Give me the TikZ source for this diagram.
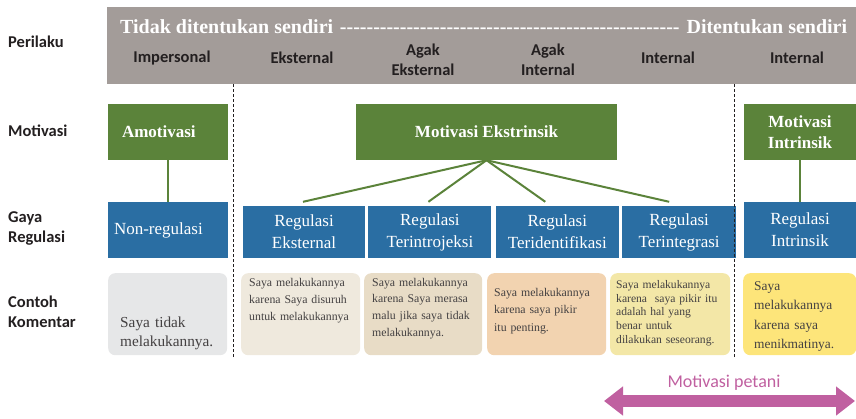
\documentclass[tikz,border=0pt]{standalone}
\usepackage{fontspec}
\setmainfont{Liberation Serif}
\setsansfont{Carlito}
\usetikzlibrary{positioning,arrows.meta}
\definecolor{hdrgray}{HTML}{A39C99}
\definecolor{motgreen}{HTML}{5B833A}
\definecolor{regblue}{HTML}{2A6EA3}
\definecolor{kom1}{HTML}{E6E7E8}
\definecolor{kom2}{HTML}{EFE9DD}
\definecolor{kom3}{HTML}{E8DCC6}
\definecolor{kom4}{HTML}{F2D3B0}
\definecolor{kom5}{HTML}{F3E7A7}
\definecolor{kom6}{HTML}{FDE57A}
\definecolor{petani}{HTML}{C060A0}
\definecolor{ink}{HTML}{231F20}

\begin{document}
\begin{tikzpicture}[x=1pt,y=-1pt,
  rowlbl/.style={anchor=west,align=left,inner sep=0pt,text=ink,font=\sffamily\bfseries\fontsize{16.5}{20}\selectfont},
  collbl/.style={align=center,inner sep=0pt,text=ink,font=\sffamily\bfseries\fontsize{16.5}{20}\selectfont},
  mbox/.style={fill=motgreen,text=white,minimum height=56pt,align=center,inner sep=0pt,font=\bfseries\fontsize{17}{21}\selectfont},
  rbox/.style={fill=regblue,text=white,minimum height=52pt,align=center,inner sep=0pt,font=\fontsize{17}{22}\selectfont},
  kbox/.style={rounded corners=7pt,anchor=north west,align=left,inner ysep=0pt,text=ink!85},
  link/.style={motgreen,line width=2pt},
  divider/.style={densely dashed,line width=0.8pt,ink}]
  \useasboundingbox (0,0) rectangle (856,418);

  \node[fill=hdrgray,minimum width=749pt,minimum height=77pt,inner sep=0pt] (hdr) at (481.5,45.5) {};
  \node[anchor=base west,inner sep=0pt,text=white,font=\bfseries\fontsize{20}{24}\selectfont] (skala) at (120,33)
    {\hbox to 727pt{Tidak ditentukan sendiri \leaders\hbox{-}\hfill\ Ditentukan sendiri}};
  \node[collbl] (p1) at (172,58) {Impersonal};
  \node[collbl] (p2) at (302,58) {Eksternal};
  \node[collbl] (p3) at (423,60) {Agak\\Eksternal};
  \node[collbl] (p4) at (548,60) {Agak\\Internal};
  \node[collbl] (p5) at (668,58) {Internal};
  \node[collbl] (p6) at (797,58) {Internal};

  \node[rowlbl] (l1) at (8,42) {Perilaku};
  \node[rowlbl] (l2) at (8,131) {Motivasi};
  \node[rowlbl] (l3) at (8,228) {Gaya\\Regulasi};
  \node[rowlbl] (l4) at (8,312) {Contoh\\Komentar};

  \node[mbox,text width=92pt,inner xsep=14pt,align=left] (amot) at (168,132) {Amotivasi};
  \node[mbox,minimum width=261pt] (ekst) at (486.5,132) {Motivasi Ekstrinsik};
  \node[mbox,minimum width=112pt] (intr) at (800,132) {Motivasi\\Intrinsik};

  \node[rbox,minimum height=56pt,text width=108pt,inner xsep=6pt,align=left] (nonreg) at (168,230) {Non-regulasi};
  \node[rbox,minimum width=122pt] (r1) at (304,232) {Regulasi\\Eksternal};
  \node[rbox,minimum width=123pt,right=3pt of r1] (r2) {Regulasi\\Terintrojeksi};
  \node[rbox,minimum width=123pt,right=4pt of r2] (r3) {Regulasi\\Teridentifikasi};
  \node[rbox,minimum width=114pt,right=3pt of r3] (r4) {Regulasi\\Terintegrasi};
  \node[rbox,minimum height=56pt,minimum width=112pt] (rintr) at (800,230) {Regulasi\\Intrinsik};

  \path[link] (amot) edge (nonreg)
    (intr) edge (rintr)
    (ekst.south) edge ([shift={(-1,-4)}]r1.north)
                 edge ([shift={(-1.5,-4)}]r2.north)
                 edge ([shift={(-12,-4)}]r3.north)
                 edge ([shift={(-10,-4)}]r4.north);

  \node[kbox,fill=kom1,text width=95pt,inner xsep=12pt,text height=54pt,text depth=28pt,
    font=\fontsize{15.3}{19.5}\selectfont] (k1) at (108,273) {Saya tidak\\melakukannya.};
  \node[kbox,fill=kom2,text width=103pt,inner xsep=8pt,text height=13pt,text depth=69pt,
    font=\fontsize{11.8}{17}\selectfont] (k2) at (241,273) {Saya melakukannya\\karena Saya disuruh\\untuk melakukannya};
  \node[kbox,fill=kom3,text width=102pt,inner xsep=8pt,text height=13pt,text depth=69pt,
    font=\fontsize{11.8}{16.7}\selectfont] (k3) at (364,273) {Saya melakukannya\\karena Saya merasa\\malu jika saya tidak\\melakukannya.};
  \node[kbox,fill=kom4,text width=105pt,inner xsep=7pt,text height=23pt,text depth=59pt,
    font=\fontsize{11.8}{17.5}\selectfont] (k4) at (487,273) {Saya melakukannya\\karena saya pikir\\itu penting.};
  \node[kbox,fill=kom5,text width=108pt,inner xsep=6pt,text height=15pt,text depth=67pt,
    font=\fontsize{11.6}{13.8}\selectfont] (k5) at (610,273) {Saya melakukannya\\karena~ saya pikir itu\\adalah hal yang\\benar untuk\\dilakukan seseorang.};
  \node[kbox,fill=kom6,text width=91pt,inner xsep=11pt,text height=17pt,text depth=65pt,
    font=\fontsize{13.4}{19.5}\selectfont] (k6) at (743,273) {Saya\\melakukannya\\karena saya\\menikmatinya.};

  \coordinate (d1a) at (233,84);
  \coordinate (d1b) at (233,357);
  \coordinate (d2a) at (734,84);
  \coordinate (d2b) at (734,357);
  \draw[divider] (d1a) -- (d1b);
  \draw[divider] (d2a) -- (d2b);

  \coordinate (al) at (604,401);
  \coordinate (ar) at (855,401);
  \draw[petani,line width=12pt,{Triangle[length=19pt,width=28pt]}-{Triangle[length=19pt,width=28pt]}] (al) -- (ar);
  \node[anchor=base,text=petani,font=\sffamily\fontsize{18}{22}\selectfont] (mp) at (724,387) {Motivasi petani};
\end{tikzpicture}
\end{document}
